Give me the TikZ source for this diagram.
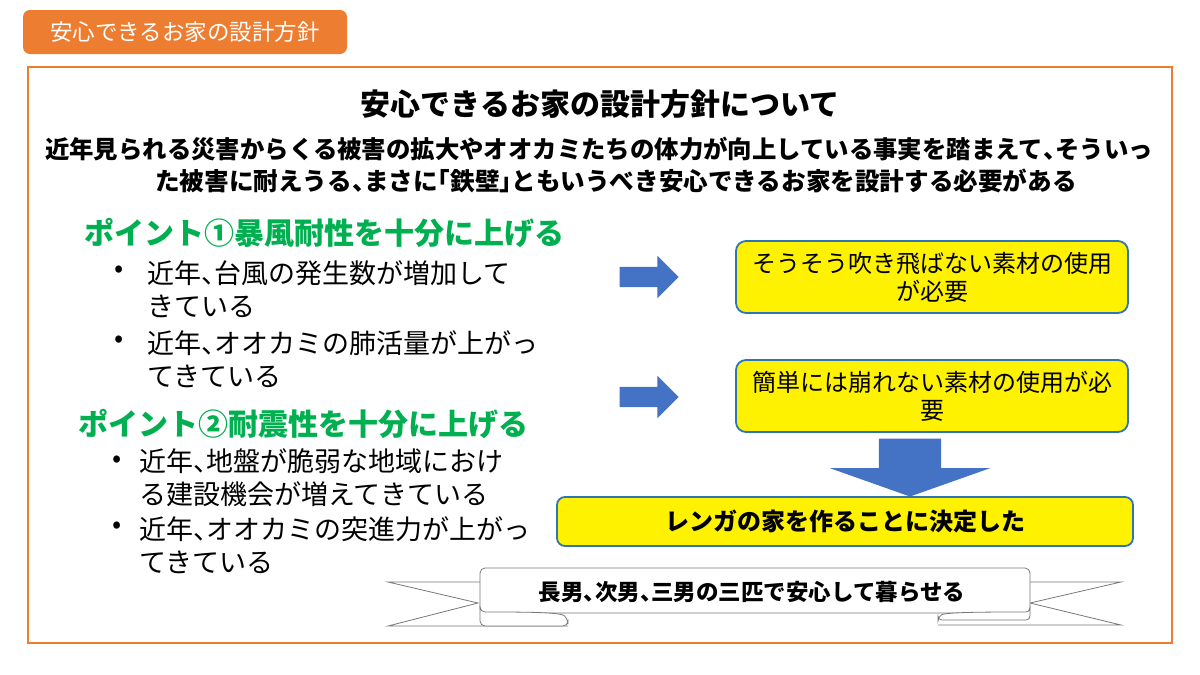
\documentclass[tikz,border=0pt]{standalone}
\usepackage{fontspec}
\setmainfont{Noto Sans CJK JP}
\usetikzlibrary{shapes.arrows}
\definecolor{tabOrange}{RGB}{237,125,49}
\definecolor{pointGreen}{RGB}{0,176,80}
\definecolor{arrowBlue}{RGB}{68,114,196}
\definecolor{boxEdge}{RGB}{46,117,182}
\definecolor{ribbonGray}{RGB}{120,120,120}
\newcommand{\fsize}[2]{\fontsize{#1}{#2}\selectfont}
\newcommand{\hw}[1]{{\addfontfeature{RawFeature=+halt}#1}}

\tikzset{
  plain/.style={inner sep=0pt, font=\fsize{27}{33}, align=left, anchor=west},
  heading/.style={inner sep=0pt, anchor=west, text=pointGreen, font=\bfseries\fsize{30}{36}},
  notebox/.style={draw=boxEdge, line width=1.8pt, fill=yellow, rounded corners=10pt,
    minimum width=392pt, minimum height=72pt, align=center, inner sep=0pt, font=\fsize{24}{28}},
  blockarrow/.style={single arrow, fill=arrowBlue, inner xsep=0pt, draw=none},
  ribbonline/.style={draw=ribbonGray, line width=0.8pt, fill=white},
}

\begin{document}
\begin{tikzpicture}[x=1pt, y=-1pt]
  \useasboundingbox[fill=white] (0,0) rectangle (1200,675);

  \node[fill=tabOrange, rounded corners=7pt, minimum width=324pt, minimum height=44pt,
    text=white, font=\fsize{22.5}{26}] (tab) at (185,32) {安心できるお家の設計方針};
  \draw[tabOrange, line width=1.2pt] (28,67) rectangle (1172,643);

  \node[inner sep=0pt, font=\bfseries\fsize{30}{36}] (title) at (600,104) {安心できるお家の設計方針について};
  \node[inner sep=0pt, font=\bfseries\fsize{24.4}{30}] (lead1) at (599,149)
    {近年見られる災害からくる被害の拡大やオオカミたちの体力が向上している事実を踏まえて\hw{、}そういっ};
  \node[inner sep=0pt, font=\bfseries\fsize{24.6}{30}] (lead2) at (616,181)
    {た被害に耐えうる\hw{、}まさに\hw{「}鉄壁\hw{」}ともいうべき安心できるお家を設計する必要がある};

  \node[heading] (pt1) at (84,233) {ポイント①暴風耐性を十分に上げる};
  \node[plain] (dot1) at (114,272) {•};
  \node[plain] (item1) at (147,289) {近年\hw{、}台風の発生数が増加して\\きている};
  \node[plain] (dot2) at (114,342) {•};
  \node[plain] (item2) at (147,359) {近年\hw{、}オオカミの肺活量が上がっ\\てきている};

  \node[heading] (pt2) at (78,424) {ポイント②耐震性を十分に上げる};
  \node[plain] (dot3) at (112,462) {•};
  \node[plain] (item3) at (139,478) {近年\hw{、}地盤が脆弱な地域におけ\\る建設機会が増えてきている};
  \node[plain] (dot4) at (112,528) {•};
  \node[plain] (item4) at (139,545) {近年\hw{、}オオカミの突進力が上がっ\\てきている};

  \node[blockarrow, minimum height=59pt, inner ysep=10pt, single arrow head extend=11pt] (arr1) at (644,277) {};
  \node[blockarrow, minimum height=59pt, inner ysep=10pt, single arrow head extend=11pt] (arr2) at (644,397) {};

  \node[notebox] (need1) at (932,277) {そうそう吹き飛ばない素材の使用\\が必要};
  \node[notebox] (need2) at (932,396) {簡単には崩れない素材の使用が必\\要};

  \node[blockarrow, rotate=-90, minimum height=58pt, inner ysep=31pt,
    single arrow head extend=49pt, single arrow tip angle=141] (down) at (910,462) {};

  \node[notebox, rounded corners=8pt, minimum width=576pt, minimum height=49pt,
    font=\bfseries\fsize{24}{28}] (decide) at (845,521.5) {レンガの家を作ることに決定した};

  \draw[ribbonline] (568,626) -- (388,626) -- (478,603) -- (388,582) -- (480,582);
  \draw[ribbonline] (1030,582) -- (1121,582) -- (1030,603) -- (1121,625) -- (938,625);
  \draw[ribbonline, rounded corners=5pt] (480,568) rectangle (1030,613);
  \draw[ribbonline, rounded corners=5pt] (480,611) -- (480,626) -- (568,626) -- (568,619)
    .. controls (560,612) and (520,612) .. (480,612) -- cycle;
  \draw[ribbonline, rounded corners=4pt] (1030,611) -- (1030,620) -- (938,620) -- (938,617)
    .. controls (946,612) and (990,612) .. (1030,612) -- cycle;
  \node[inner sep=0pt, font=\bfseries\fsize{22.5}{26}] (motto) at (752,592) {長男\hw{、}次男\hw{、}三男の三匹で安心して暮らせる};
\end{tikzpicture}
\end{document}
